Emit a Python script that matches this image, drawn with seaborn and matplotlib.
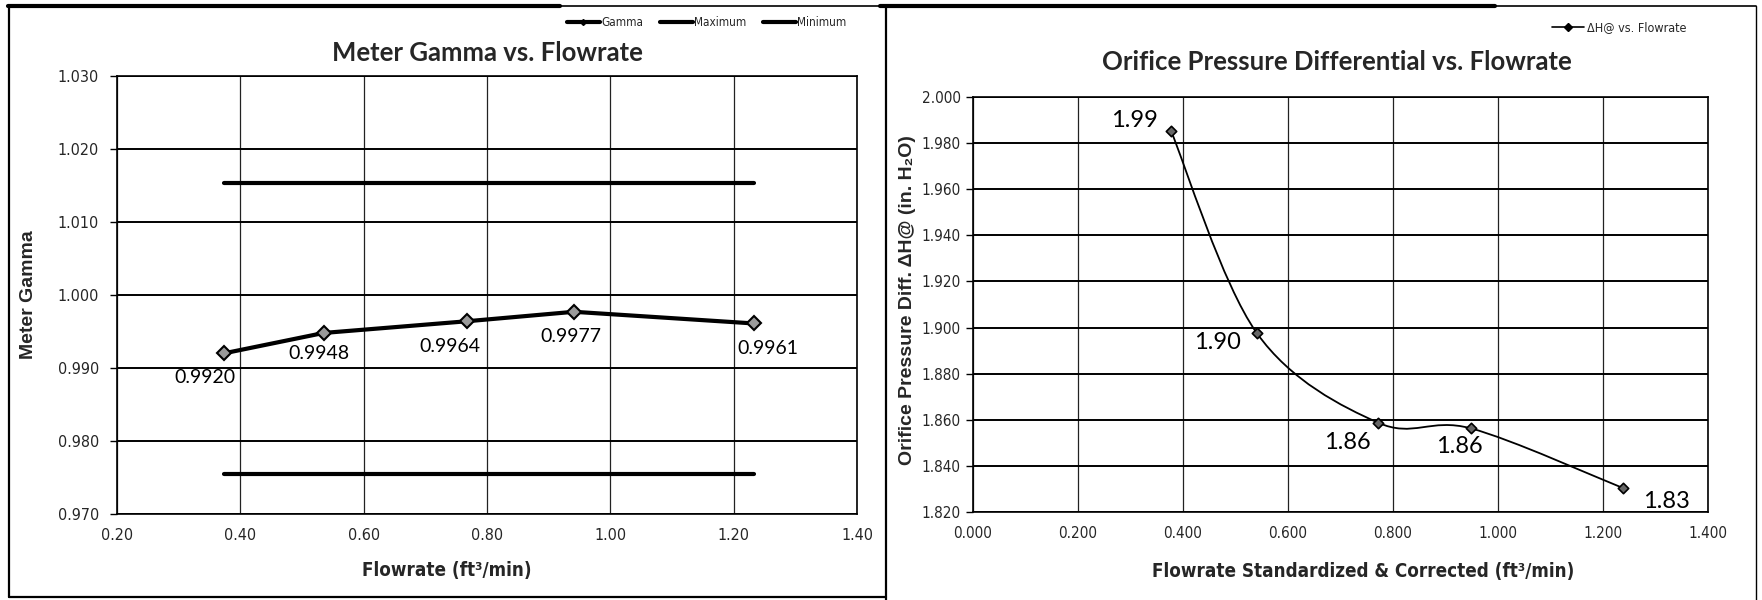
import numpy as np
import matplotlib
matplotlib.use('Agg')
import matplotlib.pyplot as plt
import pandas as pd
import seaborn as sns
from matplotlib.path import Path
from matplotlib.patches import PathPatch
from matplotlib.lines import Line2D
from matplotlib.ticker import FormatStrFormatter, MultipleLocator

# data
flowrate = [0.373, 0.535, 0.767, 0.941, 1.233]
gamma = [0.9920, 0.9948, 0.9964, 0.9977, 0.9961]
gamma_labels = ['0.9920', '0.9948', '0.9964', '0.9977', '0.9961']
gamma_max = 1.0153
gamma_min = 0.9755

flow_std = [0.377, 0.540, 0.771, 0.948, 1.238]
delta_h = [1.9854, 1.8978, 1.8588, 1.8563, 1.8304]
delta_h_labels = ['1.99', '1.90', '1.86', '1.86', '1.83']

sns.set_theme(style='white')
plt.rcParams['font.family'] = ['Lato', 'DejaVu Sans']

NARROW = ['Liberation Sans Narrow', 'DejaVu Sans']
ARIAL = ['Liberation Sans', 'DejaVu Sans']
W, H = 1762, 600

fig = plt.figure(figsize=(17.62, 6.0), dpi=100)
ax1 = fig.add_axes([117 / W, 1 - 514 / H, 740 / W, 438 / H])
ax2 = fig.add_axes([973 / W, 1 - 512 / H, 735 / W, 415 / H])

for ax in (ax1, ax2):
    ax.set_axisbelow(True)
    ax.grid(axis='y', color='black', lw=1.4)
    ax.grid(axis='x', color='#222222', lw=0.9)
    for s in ax.spines.values():
        s.set_color('black')
        s.set_linewidth(1.2)
    ax.tick_params(axis='y', length=5, width=1, color='black', left=True, pad=4)
    ax.tick_params(axis='x', length=0, pad=10)

# ---- left: meter gamma
df_g = pd.DataFrame({'Flowrate': flowrate, 'Gamma': gamma})
df_lim = pd.DataFrame({'Flowrate': [flowrate[0], flowrate[-1]],
                       'Maximum': [gamma_max] * 2, 'Minimum': [gamma_min] * 2})
sns.lineplot(data=df_lim, x='Flowrate', y='Maximum', ax=ax1, color='black', lw=3)
sns.lineplot(data=df_lim, x='Flowrate', y='Minimum', ax=ax1, color='black', lw=3)
sns.lineplot(data=df_g, x='Flowrate', y='Gamma', ax=ax1, color='black', lw=3,
             marker='D', markersize=7, markerfacecolor='#9a9a9a',
             markeredgecolor='black', markeredgewidth=1.5)

ax1.set_xlim(0.2, 1.4)
ax1.set_ylim(0.970, 1.030)
ax1.xaxis.set_major_locator(MultipleLocator(0.2))
ax1.yaxis.set_major_locator(MultipleLocator(0.01))
ax1.xaxis.set_major_formatter(FormatStrFormatter('%.2f'))
ax1.yaxis.set_major_formatter(FormatStrFormatter('%.3f'))
ax1.tick_params(axis='y', pad=8)

g_off = [(-19, -24), (-5, -21), (-17, -25), (-3, -25), (14, -25)]
for x, y, t, o in zip(flowrate, gamma, gamma_labels, g_off):
    ax1.annotate(t, (x, y), xytext=o, textcoords='offset pixels',
                 ha='center', va='center', fontsize=14, color='black')

ax1.set_xlabel('Flowrate (ft³/min)', family=NARROW, fontweight='bold',
               fontsize=13.5, fontstretch='condensed')
ax1.set_ylabel('Meter Gamma', family=ARIAL, fontweight='bold', fontsize=14)
ax1.xaxis.set_label_coords(0.446, -0.108)
ax1.yaxis.set_label_coords(-0.108, 0.5)

for lab in ax1.get_xticklabels() + ax1.get_yticklabels():
    lab.set_family(NARROW)
    lab.set_fontstretch('condensed')
    lab.set_fontsize(11.5)

fig.text(487 / W, 1 - 53 / H, 'Meter Gamma vs. Flowrate', ha='center', va='center',
         fontsize=18.5, fontweight='bold')

h_left = [
    Line2D([], [], color='black', lw=3, marker='D', markersize=3),
    Line2D([], [], color='black', lw=3),
    Line2D([], [], color='black', lw=3),
]
fig.legend(h_left, ['Gamma', 'Maximum', 'Minimum'], loc='center right',
           bbox_to_anchor=(852 / W, 1 - 23 / H), ncol=3, frameon=False,
           prop={'family': NARROW, 'size': 8.5, 'stretch': 'condensed'},
           handlelength=2.8, handletextpad=0.1, columnspacing=1.4, borderpad=0)

# ---- right: orifice pressure differential (smoothed curve like the original)
pts = np.column_stack([flow_std, delta_h])
verts = [pts[0]]
codes = [Path.MOVETO]
n = len(pts)
for i in range(n - 1):
    p0 = pts[i - 1] if i > 0 else pts[i]
    p1, p2 = pts[i], pts[i + 1]
    p3 = pts[i + 2] if i + 2 < n else pts[i + 1]
    verts += [p1 + (p2 - p0) / 6, p2 - (p3 - p1) / 6, p2]
    codes += [Path.CURVE4] * 3
ax2.add_patch(PathPatch(Path(verts, codes), fill=False, ec='black', lw=1.3))
sns.scatterplot(x=flow_std, y=delta_h, ax=ax2, marker='D', s=28, color='#666666',
                edgecolor='black', linewidth=1.2, zorder=3)

ax2.set_xlim(0.0, 1.4)
ax2.set_ylim(1.820, 2.000)
ax2.xaxis.set_major_locator(MultipleLocator(0.2))
ax2.yaxis.set_major_locator(MultipleLocator(0.02))
ax2.xaxis.set_major_formatter(FormatStrFormatter('%.3f'))
ax2.yaxis.set_major_formatter(FormatStrFormatter('%.3f'))

d_off = [(-36, 10), (-39, -10), (-30, -20), (-11, -18), (44, -13)]
for x, y, t, o in zip(flow_std, delta_h, delta_h_labels, d_off):
    ax2.annotate(t, (x, y), xytext=o, textcoords='offset pixels',
                 ha='center', va='center', fontsize=17, color='black')

ax2.set_xlabel('Flowrate Standardized & Corrected (ft³/min)', family=NARROW,
               fontweight='bold', fontsize=13.5, fontstretch='condensed')
ax2.set_ylabel('Orifice Pressure Diff. ΔH@ (in. H₂O)', family=ARIAL,
               fontweight='bold', fontsize=14)
ax2.xaxis.set_label_coords(0.531, -0.12)
ax2.yaxis.set_label_coords(-0.077, 0.51)

for lab in ax2.get_xticklabels() + ax2.get_yticklabels():
    lab.set_family(NARROW)
    lab.set_fontstretch('condensed')
    lab.set_fontsize(11)

fig.text(1337 / W, 1 - 62 / H, 'Orifice Pressure Differential vs. Flowrate',
         ha='center', va='center', fontsize=18.5, fontweight='bold')

h_right = [Line2D([], [], color='black', lw=1.2, marker='D', markersize=4)]
fig.legend(h_right, ['ΔH@ vs. Flowrate'], loc='center right',
           bbox_to_anchor=(1693 / W, 1 - 28 / H), frameon=False,
           prop={'family': NARROW, 'size': 9, 'stretch': 'condensed'},
           handlelength=2.5, handletextpad=0.3, borderpad=0)

# panel frames like the scanned page
def fline(x0, y0, x1, y1, lw):
    fig.add_artist(Line2D([x0 / W, x1 / W], [1 - y0 / H, 1 - y1 / H],
                          transform=fig.transFigure, color='black', lw=lw))

fline(8, 6, 560, 6, 3)
fline(560, 6, 880, 6, 1.2)
fline(880, 6, 1495, 6, 3)
fline(1495, 6, 1756, 6, 1.2)
fline(9, 6, 9, 597, 1.6)
fline(9, 597, 886, 597, 1.6)
fline(886, 6, 886, 600, 1.6)
fline(1756, 6, 1756, 600, 1.0)

fig.savefig('out.png', dpi=100)
